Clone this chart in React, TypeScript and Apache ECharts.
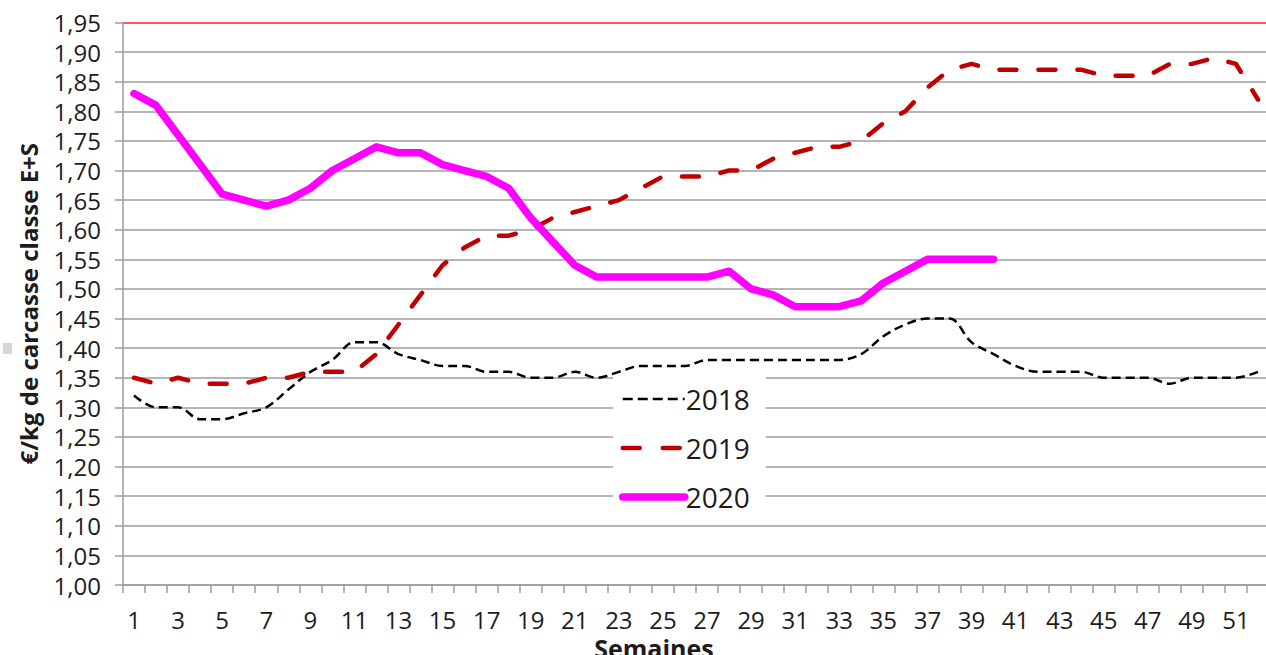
import React, { useEffect, useRef } from 'react';
import * as echarts from 'echarts';

const weeks = ['1','2','3','4','5','6','7','8','9','10','11','12','13','14','15','16','17','18','19','20','21','22','23','24','25','26','27','28','29','30','31','32','33','34','35','36','37','38','39','40','41','42','43','44','45','46','47','48','49','50','51','52'];

const y2018 = [1.32,1.30,1.30,1.28,1.28,1.29,1.30,1.33,1.36,1.38,1.41,1.41,1.39,1.38,1.37,1.37,1.36,1.36,1.35,1.35,1.36,1.35,1.36,1.37,1.37,1.37,1.38,1.38,1.38,1.38,1.38,1.38,1.38,1.39,1.42,1.44,1.45,1.45,1.41,1.39,1.37,1.36,1.36,1.36,1.35,1.35,1.35,1.34,1.35,1.35,1.35,1.36];

const y2019 = [1.35,1.34,1.35,1.34,1.34,1.34,1.35,1.35,1.36,1.36,1.36,1.39,1.44,1.49,1.54,1.57,1.59,1.59,1.60,1.62,1.63,1.64,1.65,1.67,1.69,1.69,1.69,1.70,1.70,1.72,1.73,1.74,1.74,1.75,1.78,1.80,1.84,1.87,1.88,1.87,1.87,1.87,1.87,1.87,1.86,1.86,1.86,1.88,1.88,1.89,1.88,1.82];

const y2020 = [1.83,1.81,1.76,1.71,1.66,1.65,1.64,1.65,1.67,1.70,1.72,1.74,1.73,1.73,1.71,1.70,1.69,1.67,1.62,1.58,1.54,1.52,1.52,1.52,1.52,1.52,1.52,1.53,1.50,1.49,1.47,1.47,1.47,1.48,1.51,1.53,1.55,1.55,1.55,1.55,null,null,null,null,null,null,null,null,null,null,null,null];

const seriesNames = ['2018', '2019', '2020'];
const yMin = 1.0;
const yMax = 1.95;
const yStep = 0.05;
const yTitle = '€/kg de carcasse classe E+S';
const xTitle = 'Semaines';

const FONT = "'Open Sans', 'Noto Sans', sans-serif";
const TXT = '#1f1b1c';
const GRID = '#9d9d9d';

const style2018 = { color: '#000000', width: 2.5, type: [9, 5] as number[] };
const style2019 = { color: '#c00000', width: 4.5, type: [17, 22] as number[], cap: 'round', join: 'round' };
const style2020 = { color: '#ff00ff', width: 7.5, type: 'solid', cap: 'round', join: 'round' };

export default function App() {
  const ref = useRef<HTMLDivElement>(null);
  useEffect(() => {
    const chart = echarts.init(ref.current!, null, { renderer: 'svg' });
    const nLines = Math.round((yMax - yMin) / yStep) + 1;
    const gridColors = Array.from({ length: nLines }, (_, i) => (i === nLines - 1 ? '#ff1f1f' : GRID));
    chart.setOption({
      animation: false,
      backgroundColor: '#ffffff',
      textStyle: { fontFamily: FONT },
      grid: { left: 123, top: 22.5, width: 1146, height: 562.5, containLabel: false, outerBoundsMode: 'none' },
      legend: {
        data: [
          { name: seriesNames[0], lineStyle: { ...style2018, type: [10, 5] } },
          { name: seriesNames[1], lineStyle: { ...style2019, type: [17, 23] } },
          { name: seriesNames[2], lineStyle: { ...style2020 } },
        ],
        orient: 'vertical',
        left: 613,
        top: 376,
        padding: [9, 16, 6, 6],
        itemGap: 21,
        itemWidth: 62,
        itemHeight: 20,
        backgroundColor: '#ffffff',
        itemStyle: { opacity: 0 },
        textStyle: { fontSize: 28, color: TXT, fontFamily: FONT, padding: [0, 0, 0, -4] },
      },
      xAxis: {
        type: 'category',
        data: weeks,
        boundaryGap: true,
        axisLine: { lineStyle: { color: GRID, width: 1.5 } },
        axisTick: { show: true, interval: 0, length: 8, lineStyle: { color: GRID, width: 1.5 } },
        axisLabel: { interval: 1, margin: 22, fontSize: 24, color: TXT, fontFamily: FONT },
        splitLine: { show: false },
        name: xTitle,
        nameLocation: 'middle',
        nameGap: 48,
        nameTextStyle: { fontSize: 25, fontWeight: 'bold', color: TXT, fontFamily: FONT, padding: [0, 84, 0, 0] },
      },
      yAxis: {
        type: 'value',
        min: yMin,
        max: yMax,
        interval: yStep,
        axisLine: { show: true, lineStyle: { color: GRID, width: 1.5 } },
        axisTick: { show: true, length: 8, lineStyle: { color: GRID, width: 1.5 } },
        axisLabel: {
          margin: 22,
          fontSize: 24,
          lineHeight: 24,
          color: TXT,
          fontFamily: FONT,
          formatter: (v: number) => v.toFixed(2).replace('.', ','),
        },
        splitLine: { show: true, lineStyle: { color: gridColors, width: 1.5 } },
        name: yTitle,
        nameLocation: 'middle',
        nameGap: 83,
        nameRotate: 90,
        nameTextStyle: { fontSize: 24, fontWeight: 'bold', color: TXT, fontFamily: FONT },
      },
      series: [
        {
          name: seriesNames[0],
          type: 'line',
          data: y2018,
          symbol: 'none',
          smooth: 0.35,
          lineStyle: style2018,
          itemStyle: { color: '#000000' },
          z: 3,
        },
        {
          name: seriesNames[1],
          type: 'line',
          data: y2019,
          symbol: 'none',
          lineStyle: style2019,
          itemStyle: { color: '#c00000' },
          z: 4,
        },
        {
          name: seriesNames[2],
          type: 'line',
          data: y2020,
          symbol: 'none',
          connectNulls: false,
          lineStyle: style2020,
          itemStyle: { color: '#ff00ff' },
          z: 5,
        },
      ],
      graphic: [
        { type: 'rect', left: 3, top: 343, shape: { width: 9, height: 11 }, style: { fill: '#d6d6d6' }, silent: true },
      ],
    });
    return () => chart.dispose();
  }, []);
  return (
    <div
      ref={ref}
      style={{ position: 'fixed', left: 0, top: 0, width: 1266, height: 655, background: '#fff' }}
    />
  );
}
